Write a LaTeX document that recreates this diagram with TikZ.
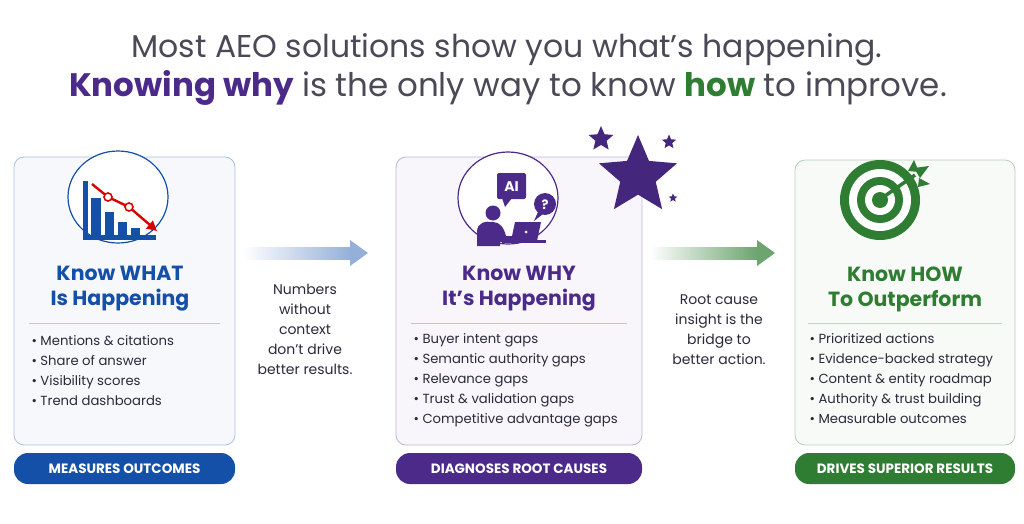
\documentclass[tikz,border=0pt]{standalone}
\usepackage{fontspec}
\setmainfont{Poppins}
\usetikzlibrary{shapes.geometric,arrows.meta}
\definecolor{cblue}{HTML}{1450A8}
\definecolor{cpurple}{HTML}{4B2A8A}
\definecolor{cgreen}{HTML}{2E7D32}
\definecolor{ctext}{HTML}{2A2A3A}
\begin{document}
\begin{tikzpicture}[x=1pt,y=-1pt,
  card/.style={draw=#1!35,fill=#1!4,rounded corners=10pt,line width=0.8pt},
  pill/.style={fill=#1,rounded corners=14pt},
  pilltxt/.style={text=white,font=\fontseries{sb}\selectfont\fontsize{13.5}{14}\selectfont},
  head/.style={text=#1,font=\fontseries{sb}\selectfont\fontsize{20.5}{25}\selectfont,align=center},
  blist/.style={text=ctext,font=\fontsize{13.2}{20}\selectfont,align=left,anchor=north west},
  mid/.style={text=ctext,font=\fontsize{14}{20}\selectfont,align=center,anchor=north},
  starshape/.style={star,star points=5,star point ratio=2.2,fill=cpurple!90!black,inner sep=0pt,minimum size=#1}]
\useasboundingbox (0,0) rectangle (1024,524);
\fill[white] (0,0) rectangle (1024,524);
% title
\node[text=ctext!85,font=\fontsize{31.5}{30}\selectfont] (t1) at (507,50) {Most AEO solutions show you what’s happening.};
\node[text=ctext!85,font=\fontsize{32.5}{34}\selectfont] (t2) at (508,88) {\textcolor{cpurple}{\fontseries{sb}\selectfont Knowing why} is the only way to know \textcolor{cgreen}{\fontseries{sb}\selectfont how} to improve.};
% cards
\draw[card=cblue] (14,157) rectangle (235,445);
\draw[card=cpurple] (396,157) rectangle (642,445);
\draw[card=cgreen] (795,160) rectangle (1015,445);
% stars
\node[starshape=82pt] (sb) at (638,176) {};
\node[starshape=26pt] (s1) at (601,139) {};
\node[starshape=15pt] (s2) at (669,142) {};
\node[starshape=9pt] (s3) at (673,198) {};
% pills
\fill[pill=cblue] (14,453) rectangle (235,484);
\fill[pill=cpurple] (396,453) rectangle (642,484);
\fill[pill=cgreen] (795,453) rectangle (1015,484);
\node[pilltxt] (p1) at (124.5,469) {MEASURES OUTCOMES};
\node[pilltxt] (p2) at (519,469) {DIAGNOSES ROOT CAUSES};
\node[pilltxt] (p3) at (905,469) {DRIVES SUPERIOR RESULTS};
% headings
\node[head=cblue] (h1) at (120,289) {Know WHAT\\Is Happening};
\node[head=cpurple] (h2) at (519,289) {Know WHY\\It’s Happening};
\node[head=cgreen] (h3) at (905,289) {Know HOW\\To Outperform};
\draw[cblue!30,line width=0.8pt] (29,323) -- (220,323);
\draw[cpurple!30,line width=0.8pt] (411,323) -- (627,323);
\draw[cgreen!30,line width=0.8pt] (808,323) -- (1002,323);
% lists
\node[blist] (l1) at (28,332) {• Mentions \& citations\\• Share of answer\\• Visibility scores\\• Trend dashboards};
\node[blist] (l2) at (410,330) {• Buyer intent gaps\\• Semantic authority gaps\\• Relevance gaps\\• Trust \& validation gaps\\• Competitive advantage gaps};
\node[blist] (l3) at (806,330) {• Prioritized actions\\• Evidence-backed strategy\\• Content \& entity roadmap\\• Authority \& trust building\\• Measurable outcomes};
% middle texts
\node[mid] (m1) at (305,281) {Numbers\\without\\context\\don’t drive\\better results.};
\node[mid] (m2) at (719,291) {Root cause\\insight is the\\bridge to\\better action.};
% arrows
\shade[left color=white,right color=cblue!45] (243,247) rectangle (350,259);
\fill[cblue!45] (350,240) -- (368,253) -- (350,266) -- cycle;
\shade[left color=white,right color=cgreen!70] (650,247) rectangle (757,259);
\fill[cgreen!70] (757,240) -- (775,253) -- (757,266) -- cycle;
% icon 1: chart
\draw[cblue,line width=1.2pt,fill=white] (118,197) ellipse (50 and 46);
\fill[cblue] (83,181) rectangle (88,240);
\fill[cblue] (83,235) rectangle (156,240);
\fill[cblue] (91,198) rectangle (101,235);
\fill[cblue] (105,212) rectangle (114,235);
\fill[cblue] (118,222) rectangle (127,235);
\fill[cblue] (131,228) rectangle (140,235);
\draw[red!85!black,line width=2.4pt,-{Triangle[length=10pt,width=10pt]}] (92,184) -- (108,197) -- (129,207) -- (157,231);
\draw[red!85!black,line width=1.6pt,fill=white] (108,197) circle (4) (129,207) circle (4);
% icon 2: person
\draw[cpurple,line width=1.2pt,fill=white] (508,198) ellipse (50 and 46);
\fill[cpurple,rounded corners=2pt] (497,173) rectangle (526,199);
\fill[cpurple] (502,198) -- (505,207) -- (512,198) -- cycle;
\node[text=white,font=\fontseries{sb}\selectfont\fontsize{14}{14}\selectfont] (ai) at (511.5,187) {AI};
\fill[cpurple] (545,204) circle (11);
\fill[cpurple] (538,212) -- (534,221) -- (543,214) -- cycle;
\node[text=white,font=\fontseries{sb}\selectfont\fontsize{13}{13}\selectfont] (q) at (545,205) {?};
\fill[cpurple] (493,213) circle (7.5);
\fill[cpurple] (477,246) -- (477,232) .. controls (477,222) and (486,221) .. (493,222) .. controls (500,222) and (504,228) .. (506,236) -- (514,236) -- (514,242) -- (500,242) -- (500,246) -- cycle;
\fill[cpurple] (515,222) -- (541,222) -- (537,241) -- (511,241) -- cycle;
\fill[white] (526,232) circle (1.5);
\fill[cpurple] (502,240) rectangle (546,243);
% icon 3: target
\fill[cgreen] (880,200) circle (40);
\fill[white] (880,200) circle (31);
\fill[cgreen] (880,200) circle (23);
\fill[white] (880,200) circle (15);
\fill[cgreen] (880,200) circle (8);
\draw[cgreen,line width=3.5pt] (882,198) -- (915,175);
\fill[cgreen] (908,171) -- (914,160) -- (919,172) -- cycle;
\fill[cgreen] (914,168) -- (929,166) -- (920,178) -- cycle;
\fill[cgreen] (919,178) -- (930,184) -- (918,187) -- cycle;
\end{tikzpicture}
\end{document}
